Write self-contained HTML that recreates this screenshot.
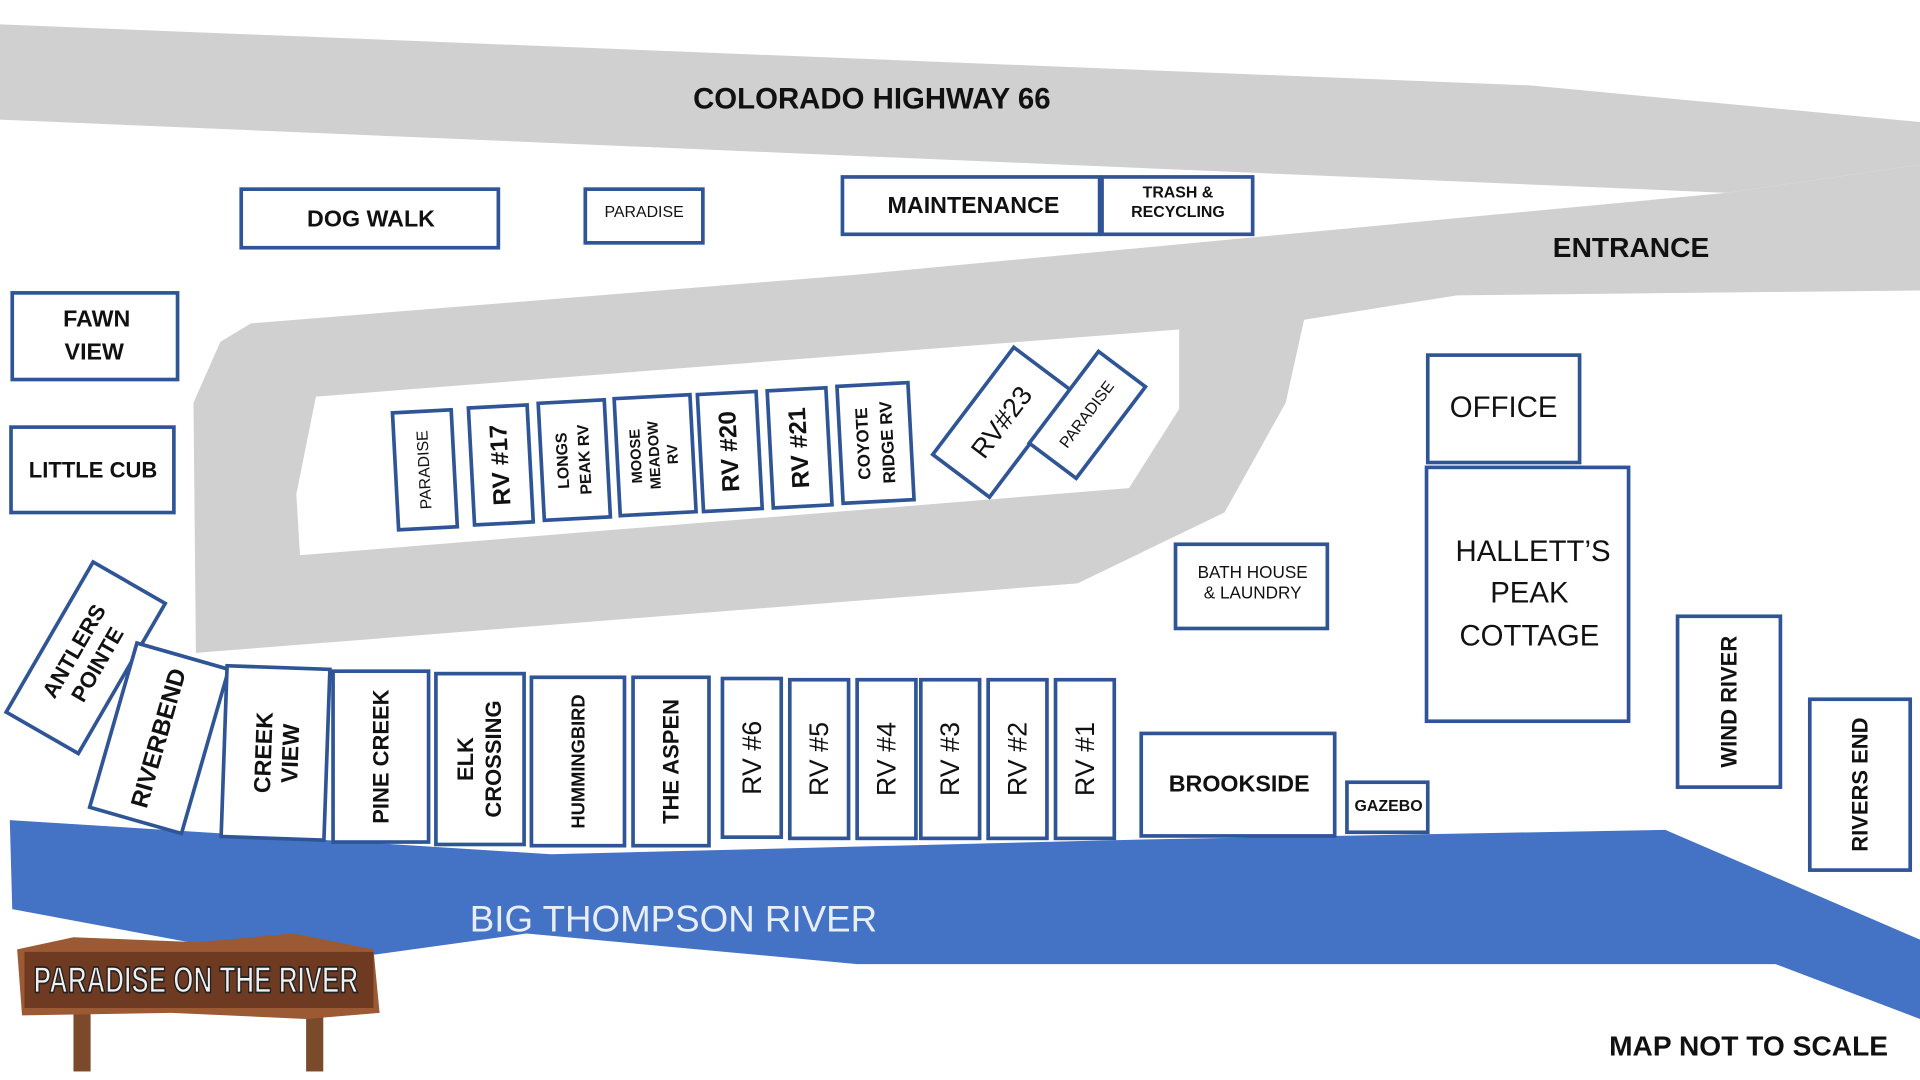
<!DOCTYPE html>
<html><head><meta charset="utf-8"><style>
html,body{margin:0;padding:0;background:#fff;}
svg{display:block;}
text{font-family:"Liberation Sans",sans-serif;fill:#111;text-anchor:middle;dominant-baseline:central;}
.b{fill:#fff;stroke:#2f5597;stroke-width:3;}
.bd{font-weight:bold;}
</style></head><body>
<svg width="1920" height="1080" viewBox="0 0 1568 885" preserveAspectRatio="none" xmlns="http://www.w3.org/2000/svg">
<polygon fill="#d0d0d0" points="0,20 1250,70 1568,100 1568,135 1410,158 0,98"/>
<polygon fill="#d0d0d0" points="1410,158 1568,135 1568,238 1190,242 1065,262 1050,330 1000,420 880,478 160,535 158,330 180,280 205,265 700,225"/>
<polygon fill="#fff" points="258,325 963,270 963,335 922,400 245,455 242,405"/>
<polygon fill="#4472c4" points="8,672 450,700 930,688 1360,680 1568,770 1568,835 1450,790 700,790 430,765 250,790 10,745"/>
<text x="550" y="753" style="fill:#e8eef8;font-size:30px">BIG THOMPSON RIVER</text>
<text x="712" y="81" class="bd" style="font-size:24px">COLORADO HIGHWAY 66</text>
<text x="1332" y="203" class="bd" style="font-size:23px">ENTRANCE</text>
<text x="1428" y="857" class="bd" style="font-size:23px">MAP NOT TO SCALE</text>

<rect class="b" x="197" y="155" width="210" height="48"/><text x="303" y="179" class="bd" style="font-size:19px">DOG WALK</text>
<rect class="b" x="478" y="155" width="96" height="44"/><text x="526" y="174" style="font-size:13px">PARADISE</text>
<rect class="b" x="688" y="145" width="210" height="47"/><text x="795" y="168" class="bd" style="font-size:19px">MAINTENANCE</text>
<rect class="b" x="900" y="145" width="123" height="47"/><text x="962" y="158" class="bd" style="font-size:13px">TRASH &amp;</text><text x="962" y="174" class="bd" style="font-size:13px">RECYCLING</text>
<rect class="b" x="10" y="240" width="135" height="71"/><text x="79" y="261" class="bd" style="font-size:19px">FAWN</text><text x="77" y="288" class="bd" style="font-size:19px">VIEW</text>
<rect class="b" x="9" y="350" width="133" height="70"/><text x="76" y="385" class="bd" style="font-size:18px">LITTLE CUB</text>
<rect class="b" x="1166" y="291" width="124" height="88"/><text x="1228" y="334" style="font-size:24px">OFFICE</text>
<rect class="b" x="1165" y="383" width="165" height="208"/><text x="1252" y="452" style="font-size:24px">HALLETT’S</text><text x="1249" y="486" style="font-size:24px">PEAK</text><text x="1249" y="521" style="font-size:24px">COTTAGE</text>
<rect class="b" x="960" y="446" width="124" height="69"/><text x="1023" y="469" style="font-size:14px">BATH HOUSE</text><text x="1023" y="486" style="font-size:14px">&amp; LAUNDRY</text>
<rect class="b" x="932" y="601" width="158" height="84"/><text x="1012" y="642" class="bd" style="font-size:19px">BROOKSIDE</text>
<rect class="b" x="1100" y="641" width="66" height="41"/><text x="1134" y="661" class="bd" style="font-size:13px">GAZEBO</text>
<g transform="translate(1412,575)"><rect class="b" x="-42" y="-70" width="84" height="140"/><text transform="rotate(-90)" class="bd" style="font-size:18px">WIND RIVER</text></g>
<g transform="translate(1519,643)"><rect class="b" x="-41" y="-70" width="82" height="140"/><text transform="rotate(-90)" class="bd" style="font-size:18px">RIVERS END</text></g>

<g transform="translate(70,539) rotate(30)"><rect class="b" x="-34" y="-71" width="68" height="142"/><g transform="rotate(-90)"><text y="-11" class="bd" style="font-size:18px">ANTLERS</text><text y="11" class="bd" style="font-size:18px">POINTE</text></g></g>
<g transform="translate(130,605) rotate(16)"><rect class="b" x="-39" y="-70" width="78" height="140"/><text transform="rotate(-90)" class="bd" style="font-size:20px">RIVERBEND</text></g>
<g transform="translate(225,617) rotate(2)"><rect class="b" x="-42" y="-70" width="84" height="140"/><g transform="rotate(-90)"><text y="-10" class="bd" style="font-size:19px">CREEK</text><text y="12" class="bd" style="font-size:19px">VIEW</text></g></g>
<g transform="translate(311,620)"><rect class="b" x="-39" y="-70" width="78" height="140"/><text transform="rotate(-90)" class="bd" style="font-size:18px">PINE CREEK</text></g>
<g transform="translate(392,622)"><rect class="b" x="-36" y="-70" width="72" height="140"/><g transform="rotate(-90)"><text y="-12" class="bd" style="font-size:18px">ELK</text><text y="11" class="bd" style="font-size:18px">CROSSING</text></g></g>
<g transform="translate(472,624)"><rect class="b" x="-38" y="-69" width="76" height="138"/><text transform="rotate(-90)" class="bd" style="font-size:15px">HUMMINGBIRD</text></g>
<g transform="translate(548,624)"><rect class="b" x="-31" y="-69" width="62" height="138"/><text transform="rotate(-90)" class="bd" style="font-size:18px">THE ASPEN</text></g>
<g transform="translate(614,621)"><rect class="b" x="-24" y="-65" width="48" height="130"/><text transform="rotate(-90)" style="font-size:22px">RV #6</text></g>
<g transform="translate(669,622)"><rect class="b" x="-24" y="-65" width="48" height="130"/><text transform="rotate(-90)" style="font-size:22px">RV #5</text></g>
<g transform="translate(724,622)"><rect class="b" x="-24" y="-65" width="48" height="130"/><text transform="rotate(-90)" style="font-size:22px">RV #4</text></g>
<g transform="translate(776,622)"><rect class="b" x="-24" y="-65" width="48" height="130"/><text transform="rotate(-90)" style="font-size:22px">RV #3</text></g>
<g transform="translate(831,622)"><rect class="b" x="-24" y="-65" width="48" height="130"/><text transform="rotate(-90)" style="font-size:22px">RV #2</text></g>
<g transform="translate(886,622)"><rect class="b" x="-24" y="-65" width="48" height="130"/><text transform="rotate(-90)" style="font-size:22px">RV #1</text></g>

<g transform="translate(347,385) rotate(-3)"><rect class="b" x="-24" y="-48" width="48" height="96"/><text transform="rotate(-90)" style="font-size:13px">PARADISE</text></g>
<g transform="translate(409,381) rotate(-3)"><rect class="b" x="-24" y="-48" width="48" height="96"/><text transform="rotate(-90)" class="bd" style="font-size:20px">RV #17</text></g>
<g transform="translate(469,377) rotate(-3)"><rect class="b" x="-27" y="-48" width="54" height="96"/><g transform="rotate(-90)"><text y="-9" class="bd" style="font-size:13px">LONGS</text><text y="9" class="bd" style="font-size:13px">PEAK RV</text></g></g>
<g transform="translate(535,373) rotate(-3)"><rect class="b" x="-31" y="-48" width="62" height="96"/><g transform="rotate(-90)"><text y="-15" class="bd" style="font-size:12px">MOOSE</text><text y="0" class="bd" style="font-size:12px">MEADOW</text><text y="15" class="bd" style="font-size:12px">RV</text></g></g>
<g transform="translate(596,370) rotate(-3)"><rect class="b" x="-24" y="-48" width="48" height="96"/><text transform="rotate(-90)" class="bd" style="font-size:20px">RV #20</text></g>
<g transform="translate(653,367) rotate(-3)"><rect class="b" x="-24" y="-48" width="48" height="96"/><text transform="rotate(-90)" class="bd" style="font-size:20px">RV #21</text></g>
<g transform="translate(715,363) rotate(-3)"><rect class="b" x="-29" y="-48" width="58" height="96"/><g transform="rotate(-90)"><text y="-10" class="bd" style="font-size:14px">COYOTE</text><text y="10" class="bd" style="font-size:14px">RIDGE RV</text></g></g>
<g transform="translate(818,346) rotate(37)"><rect class="b" x="-29" y="-55" width="58" height="110"/><text transform="rotate(-90)" style="font-size:22px">RV#23</text></g>
<g transform="translate(888,340) rotate(37)"><rect class="b" x="-24" y="-47" width="48" height="94"/><text transform="rotate(-90)" style="font-size:13px">PARADISE</text></g>

<rect x="60" y="820" width="14" height="58" fill="#7a4a2a"/>
<rect x="250" y="820" width="14" height="58" fill="#7a4a2a"/>
<polygon points="14,778 60,768 160,772 240,765 305,778 310,830 250,835 140,830 18,832" fill="#9c5a34"/>
<rect x="20" y="780" width="285" height="46" fill="#6e3b22"/>
<text x="160" y="803" class="bd" style="font-size:30px;fill:#f0f0f0;stroke:#222;stroke-width:1.5;font-family:'Liberation Sans Narrow','Liberation Sans',sans-serif" textLength="265" lengthAdjust="spacingAndGlyphs">PARADISE ON THE RIVER</text>
</svg>
</body></html>
